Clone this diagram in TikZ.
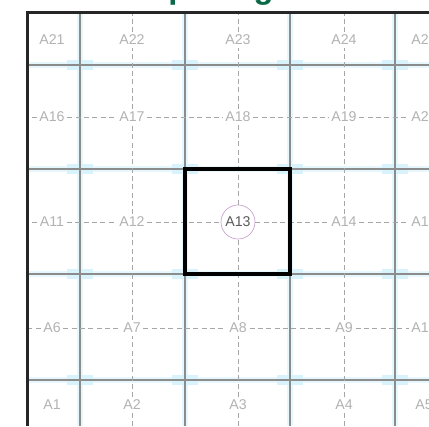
\documentclass[tikz,border=0pt]{standalone}
\usepackage{fontspec}
\setmainfont{Liberation Sans}
\usepackage{tikz}
\definecolor{ttlgreen}{RGB}{10,105,70}
\definecolor{ringpink}{RGB}{200,160,205}

\begin{document}
\begin{tikzpicture}[
    x=0.6pt, y=-0.6pt,
    font=\fontsize{8.5}{9}\selectfont,
    lbl/.style={text=black!30, fill=white, inner sep=1.5pt},
    ctr/.style={draw=ringpink, circle, minimum size=20.4pt, inner sep=0pt,
                text=black!65, fill=white},
    axis/.style={draw=black!35, dash pattern=on 3pt off 2pt, line width=0.4pt},
    grd/.style={draw=black!45, line width=0.8pt},
    halo/.style={draw=cyan!10, line width=3.5pt},
    blob/.style={fill=cyan!15},
    bay/.style={draw=black, line width=2.3pt},
  ]
  \useasboundingbox (0,0) rectangle (429,426);
  \clip (0,0) rectangle (429,426);

  %% ---- title (only its descenders fall inside) ---------------------
  \node[font=\bfseries\fontsize{19.6}{20}\selectfont, text=ttlgreen,
        anchor=base, inner sep=0pt] (title) at (210,-2) {Spacing};

  %% ---- frame edges ---------------------------------------------------
  \coordinate (top) at (0,12);
  \coordinate (bot) at (0,426);
  \coordinate (lft) at (27,0);
  \coordinate (rgt) at (429,0);

  %% ---- solid grid lines with cyan halo -------------------------------
  \foreach \xx in {80,185,290,395} {
    \draw[halo] (\xx,12) -- (\xx,426);
  }
  \foreach \yy in {65,169,274,380} {
    \draw[halo] (27,\yy) -- (429,\yy);
  }
  \foreach \xx in {80,185,290,395}
    \foreach \yy in {65,169,274,380} {
      \fill[blob] (\xx-13,\yy-5) rectangle (\xx+13,\yy+5);
    }
  \foreach \xx in {80,185,290,395} {
    \draw[grd] (\xx,12) -- (\xx,426);
  }
  \foreach \yy in {65,169,274,380} {
    \draw[grd] (27,\yy) -- (429,\yy);
  }

  %% ---- point labels A1 .. A25 ----------------------------------------
  \foreach \r/\yy in {1/405,2/328,3/222,4/117,5/40}
    \foreach \c/\xx in {1/52,2/132,3/238,4/344,5/424} {
      \pgfmathtruncatemacro\n{5*(\r-1)+\c}
      \ifnum\n=13
        \node[ctr] (A\n) at (\xx,\yy) {A\n};
      \else
        \node[lbl] (A\n) at (\xx,\yy) {A\n};
      \fi
    }

  %% ---- dashed axes, columns -------------------------------------------
  \foreach \c in {2,3,4} {
    \pgfmathtruncatemacro\t{20+\c}
    \draw[axis] (A\t) -- (A\t |- top);
    \draw[axis] (A\c) -- (A\c |- bot);
    \foreach \r in {0,1,2,3} {
      \pgfmathtruncatemacro\p{5*\r+\c}
      \pgfmathtruncatemacro\q{5*\r+\c+5}
      \draw[axis] (A\p) -- (A\q);
    }
  }

  %% ---- dashed axes, rows ----------------------------------------------
  \foreach \s in {6,11,16} {
    \draw[axis] (A\s) -- (A\s -| lft);
    \foreach \k in {0,1,2,3} {
      \pgfmathtruncatemacro\p{\s+\k}
      \pgfmathtruncatemacro\q{\s+\k+1}
      \draw[axis] (A\p) -- (A\q);
    }
  }

  %% ---- selected bay ---------------------------------------------------
  \draw[bay] (185,169) rectangle (290,274);

  %% ---- outer frame ----------------------------------------------------
  \draw[black!85, line width=1.8pt] (lft |- bot) -- (lft |- top) -- (rgt |- top);

\end{tikzpicture}
\end{document}
